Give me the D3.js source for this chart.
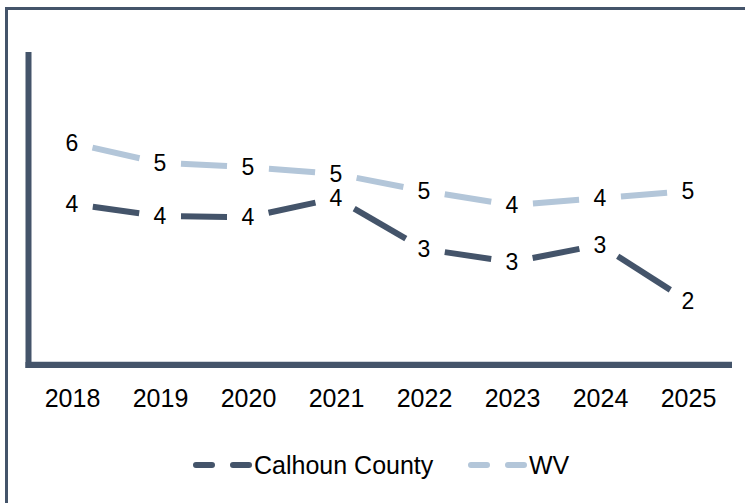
<!DOCTYPE html>
<html>
<head>
<meta charset="utf-8">
<script src="https://cdn.jsdelivr.net/npm/d3@7"></script>
<style>
  body { margin: 0; background: #fff; }
  svg { display: block; font-family: "Liberation Sans", Arial, sans-serif; }
</style>
</head>
<body>
<script>
// data
var years = ["2018", "2019", "2020", "2021", "2022", "2023", "2024", "2025"];
var calhoun = [4.24, 3.92, 3.89, 4.39, 3.05, 2.71, 3.16, 1.68];
var wv = [5.84, 5.32, 5.21, 5.03, 4.58, 4.21, 4.39, 4.58];
var seriesNames = ["Calhoun County", "WV"];

var width = 745, height = 503;
var dark = "#44546a", light = "#b3c6d9";

var svg = d3.select("body").append("svg")
    .attr("width", width)
    .attr("height", height);

// outer border (runs off the right and bottom edges)
svg.append("rect")
    .attr("x", 6.5)
    .attr("y", 8.5)
    .attr("width", 800)
    .attr("height", 600)
    .attr("fill", "none")
    .attr("stroke", dark)
    .attr("stroke-width", 3);

// scales
var xScale = d3.scalePoint()
    .domain(years)
    .range([28, 732])
    .padding(0.5);

var yScale = d3.scaleLinear()
    .domain([0, 8])
    .range([365, 61]);

// thin light axis line under the thick one
svg.append("line")
    .attr("x1", 28).attr("x2", 732)
    .attr("y1", 361.5).attr("y2", 361.5)
    .attr("stroke", "#d0d5db")
    .attr("stroke-width", 1);

// y axis line
svg.append("line")
    .attr("x1", 28.5).attr("x2", 28.5)
    .attr("y1", 52).attr("y2", 368)
    .attr("stroke", dark)
    .attr("stroke-width", 6);

// x axis line
svg.append("line")
    .attr("x1", 25.5).attr("x2", 732)
    .attr("y1", 365).attr("y2", 365)
    .attr("stroke", dark)
    .attr("stroke-width", 6);

// x axis tick labels
var xAxis = svg.append("g")
    .attr("transform", "translate(0,365)")
    .call(d3.axisBottom(xScale).tickSize(0).tickPadding(24));
xAxis.select(".domain").remove();
xAxis.selectAll("text")
    .attr("fill", "#000")
    .style("font-size", "25px")
    .style("font-family", "Liberation Sans, Arial, sans-serif");

// draw one series: trimmed segments between points + value labels
function drawSeries(values, color) {
    var g = svg.append("g");
    var trim = 21;
    for (var i = 0; i < values.length - 1; i++) {
        var x0 = xScale(years[i]), y0 = yScale(values[i]);
        var x1 = xScale(years[i + 1]), y1 = yScale(values[i + 1]);
        var len = Math.sqrt((x1 - x0) * (x1 - x0) + (y1 - y0) * (y1 - y0));
        var ux = (x1 - x0) / len, uy = (y1 - y0) / len;
        g.append("line")
            .attr("x1", x0 + ux * trim).attr("y1", y0 + uy * trim)
            .attr("x2", x1 - ux * trim).attr("y2", y1 - uy * trim)
            .attr("stroke", color)
            .attr("stroke-width", 6);
    }
    g.selectAll(".lbl")
        .data(values)
        .enter()
        .append("text")
        .attr("class", "lbl")
        .attr("x", function(d, i) { return xScale(years[i]); })
        .attr("y", function(d) { return yScale(d); })
        .attr("dy", "0.36em")
        .attr("text-anchor", "middle")
        .style("font-size", "23px")
        .attr("fill", "#000")
        .text(function(d) { return Math.round(d); });
}

drawSeries(wv, light);
drawSeries(calhoun, dark);

// legend
var legend = svg.append("g").attr("transform", "translate(0,465)");
var legendX = [193, 468];
var legendColors = [dark, light];
seriesNames.forEach(function(name, i) {
    legend.append("line")
        .attr("x1", legendX[i] + 3).attr("x2", legendX[i] + 56)
        .attr("y1", 0).attr("y2", 0)
        .attr("stroke", legendColors[i])
        .attr("stroke-width", 6)
        .attr("stroke-linecap", "round")
        .attr("stroke-dasharray", "16 21");
    legend.append("text")
        .attr("x", legendX[i] + 61)
        .attr("y", 0)
        .attr("dy", "0.36em")
        .style("font-size", "25px")
        .attr("fill", "#000")
        .text(name);
});
</script>
</body>
</html>
